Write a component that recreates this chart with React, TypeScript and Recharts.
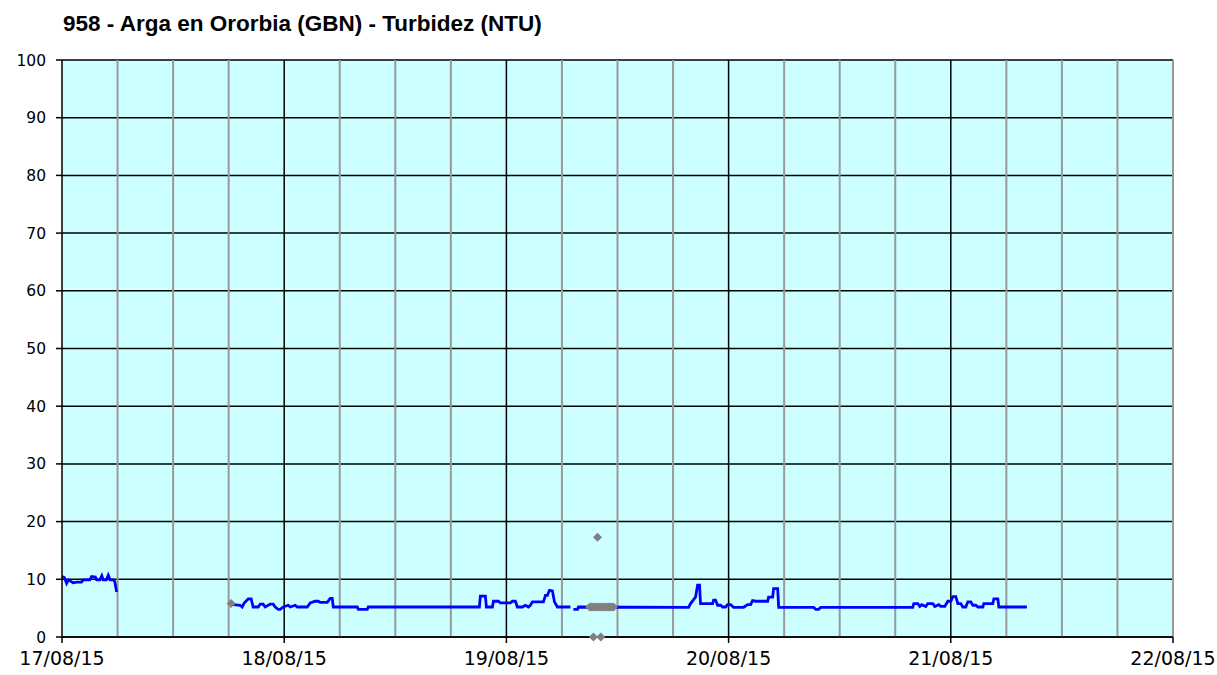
import React from 'react';
import {
  ComposedChart, Line, Scatter, XAxis, YAxis, CartesianGrid, ReferenceLine,
} from 'recharts';

// hours counted from 17/08/15 00:00
const blueHours = [
  0, 0.25, 0.5, 0.7, 1.0, 1.2, 1.6, 2.1, 2.3, 3.0, 3.2, 3.6, 3.75, 4.1, 4.3, 4.45, 4.8, 5.0, 5.2, 5.55, 5.7, 5.9, 6.0,
  18.49, 19.24, 19.46, 19.68, 20.11, 20.43, 20.65, 21.19, 21.41, 21.73, 21.95, 22.49, 22.81, 23.03, 23.35, 23.57,
  23.89, 24.43, 24.65, 25.19, 25.41, 26.49, 26.81, 27.35, 27.68, 27.89, 28.65, 28.97, 29.19, 29.3, 31.89, 32.0,
  32.97, 33.08, 45.08, 45.19, 45.73, 45.84, 46.49, 46.6, 47.14, 47.35, 48.43, 48.65, 48.97, 49.19, 49.73, 50.05,
  50.38, 50.59, 50.81, 52.0, 52.22, 52.43, 52.65, 52.97, 53.19, 53.51, 54.92, 55.1, 55.24, 55.68, 55.78, 67.68,
  67.89, 68.43, 68.65, 68.86, 68.97, 70.27, 70.38, 70.59, 70.81, 71.14, 71.35, 71.68, 71.89, 72.22, 72.54, 73.62,
  74.05, 74.38, 74.59, 74.92, 76.22, 76.32, 76.76, 76.86, 77.3, 77.41, 81.19, 81.41, 81.73, 81.95, 91.89, 92.0,
  92.43, 92.65, 92.86, 93.3, 93.51, 94.05, 94.27, 94.7, 94.92, 95.35, 95.68, 96.0, 96.22, 96.54, 96.76, 97.08,
  97.3, 97.62, 97.84, 98.16, 98.38, 98.7, 98.92, 99.46, 99.57, 100.54, 100.65, 101.08, 101.19, 104.22,
];
const blueValues: (number | null)[] = [
  10.5, 10.3, 9.3, 9.9, 9.6, 9.4, 9.5, 9.5, 9.9, 9.9, 10.5, 10.4, 9.9, 9.9, 10.6, 9.9, 9.9, 10.7, 9.9, 9.9, 9.6, 7.8, null,
  5.6, 5.5, 5.2, 5.9, 6.6, 6.6, 5.2, 5.2, 5.7, 5.7, 5.2, 5.7, 5.7, 5.2, 4.8, 4.8,
  5.2, 5.5, 5.2, 5.5, 5.2, 5.2, 5.9, 6.2, 6.2, 6.0, 6.0, 6.7, 6.7, 5.2, 5.2, 4.8,
  4.8, 5.2, 5.2, 7.1, 7.1, 5.2, 5.2, 6.2, 6.2, 5.9, 5.9, 6.2, 6.2, 5.2, 5.2, 5.5,
  5.2, 5.5, 6.1, 6.1, 7.2, 7.2, 8.1, 8.0, 6.1, 5.2, 5.2, null, 4.8, 4.8, 5.2, 5.15,
  5.8, 6.9, 9.0, 9.0, 5.8, 5.8, 6.4, 6.4, 5.5, 5.5, 5.2, 5.2, 5.6, 5.6, 5.15, 5.15,
  5.6, 5.6, 6.3, 6.2, 6.2, 6.9, 6.9, 8.4, 8.4, 5.15, 5.15, 4.8, 4.8, 5.15, 5.15, 5.8,
  5.8, 5.3, 5.6, 5.3, 5.8, 5.8, 5.3, 5.6, 5.3, 5.3, 6.2, 6.2, 7.0, 7.0, 5.8, 5.8,
  5.2, 5.2, 6.1, 6.1, 5.5, 5.5, 5.2, 5.2, 5.8, 5.8, 6.6, 6.6, 5.2, 5.2,
];

const grayHours = [18.27, 57.0, 57.2, 57.4, 57.6, 57.8, 58.0, 58.2, 58.4, 58.6, 58.8, 59.0, 59.2, 59.4, 59.57, 57.84, 57.4, 58.2];
const grayValues = [5.8, 5.2, 5.2, 5.2, 5.2, 5.2, 5.2, 5.2, 5.2, 5.2, 5.2, 5.2, 5.2, 5.2, 5.2, 17.3, 0, 0];

const dayTicks = [0, 24, 48, 72, 96, 120];
const dayLabels = ['17/08/15', '18/08/15', '19/08/15', '20/08/15', '21/08/15', '22/08/15'];
const minorLines = [6, 12, 18, 30, 36, 42, 54, 60, 66, 78, 84, 90, 102, 108, 114, 120];
const majorLines = [24, 48, 72, 96];
const yTicks = [0, 10, 20, 30, 40, 50, 60, 70, 80, 90, 100];

const TITLE = '958 - Arga en Ororbia (GBN) - Turbidez (NTU)';

const blueData = blueHours.map((h, i) => ({ h, v: blueValues[i] }));
const grayData = grayHours.map((h, i) => ({ h, v: grayValues[i] }));

const FONT = 'DejaVu Sans, Verdana, sans-serif';

// small grey diamond marker
const Diamond = (p: { cx?: number; cy?: number }) => {
  const { cx = 0, cy = 0 } = p;
  const r = 4.5;
  return <path d={`M${cx},${cy - r}L${cx + r},${cy}L${cx},${cy + r}L${cx - r},${cy}Z`} fill="#808080" />;
};

export default function App() {
  return (
    <div style={{ position: 'absolute', left: 0, top: 0, width: 1217, height: 675, background: '#fff' }}>
      <div
        style={{
          position: 'absolute', left: 63, top: 11, fontFamily: '"Liberation Sans", Arial, sans-serif',
          fontWeight: 'bold', fontSize: 22.5, color: '#000', whiteSpace: 'nowrap', lineHeight: 1.15,
        }}
      >
        {TITLE}
      </div>
      <ComposedChart width={1217} height={675} margin={{ top: 60, right: 44, left: 22, bottom: 8 }}>
        <CartesianGrid fill="#ccffff" stroke="#000" strokeWidth={1.5} vertical={false} horizontal />
        {minorLines.map((x) => (
          <ReferenceLine key={'m' + x} x={x} stroke="#999" strokeWidth={2} />
        ))}
        {majorLines.map((x) => (
          <ReferenceLine key={'M' + x} x={x} stroke="#000" strokeWidth={1.5} />
        ))}
        <XAxis
          type="number" dataKey="h" domain={[0, 120]} ticks={dayTicks}
          tickFormatter={(v: number) => dayLabels[dayTicks.indexOf(v)] ?? ''}
          tick={{ fill: '#000', fontSize: 19, fontFamily: FONT }}
          stroke="#000" strokeWidth={1.5} tickSize={6} tickMargin={9} height={30}
        />
        <YAxis
          type="number" dataKey="v" domain={[0, 100]} ticks={yTicks}
          tick={{ fill: '#000', fontSize: 15.5, fontFamily: FONT }}
          stroke="#000" strokeWidth={1.5} tickSize={6} tickMargin={10} width={40}
        />
        <Line
          data={blueData} dataKey="v" type="linear" stroke="#0000ff" strokeWidth={2.8}
          dot={false} isAnimationActive={false} connectNulls={false}
        />
        <Scatter data={grayData} dataKey="v" shape={<Diamond />} isAnimationActive={false} />
      </ComposedChart>
    </div>
  );
}
